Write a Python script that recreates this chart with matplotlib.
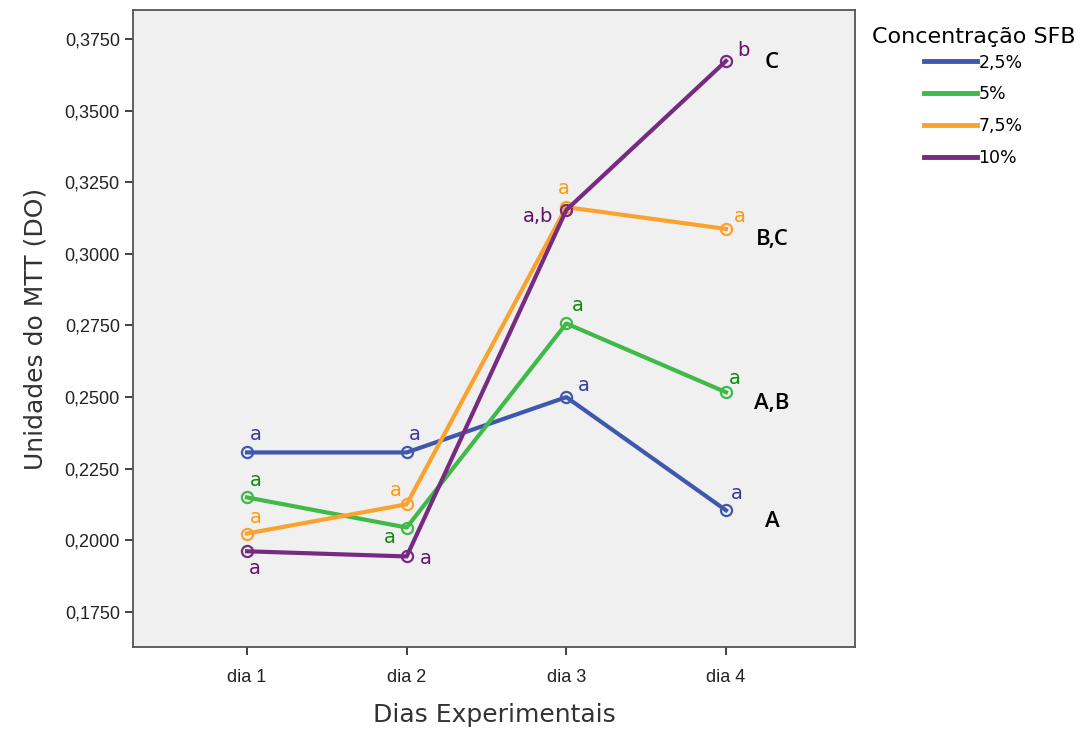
import matplotlib.pyplot as plt
from matplotlib.ticker import FuncFormatter

days = ["dia 1", "dia 2", "dia 3", "dia 4"]
groups = ["2,5%", "5%", "7,5%", "10%"]

mtt_25 = [0.2307, 0.2307, 0.2500, 0.2105]
mtt_5 = [0.2150, 0.2045, 0.2757, 0.2517]
mtt_75 = [0.2024, 0.2126, 0.3163, 0.3087]
mtt_10 = [0.1962, 0.1944, 0.3153, 0.3673]

# letras de significancia por ponto
letters_25 = ["a", "a", "a", "a"]
letters_5 = ["a", "a", "a", "a"]
letters_75 = ["a", "a", "a", "a"]
letters_10 = ["a", "a", "a,b", "b"]

group_letters = ["A", "A,B", "B,C", "C"]

line_colors = ["#3f58ad", "#3dba48", "#fba22e", "#762a80"]
text_colors = ["#3a3a9c", "#118a11", "#ff9a0a", "#6a0f6c"]

# deslocamentos (pixels) dos rotulos
offsets = [
    [(9, 18), (8, 18), (17, 12), (11, 17)],
    [(9, 17), (-17, -10), (11, 18), (9, 14)],
    [(9, 16), (-11, 14), (-3, 19), (14, 12)],
    [(8, -17), (19, -2), (-28, -6), (17, 11)],
]


def main():
    plt.rcParams["font.family"] = ["Liberation Sans", "DejaVu Sans"]
    fig = plt.figure(figsize=(10.85, 7.31), dpi=100)
    ax = fig.add_axes([133 / 1085, 1 - 647 / 731, 722 / 1085, 637 / 731])
    ax.set_facecolor("#f0f0f0")

    x = list(range(len(days)))
    series = [mtt_25, mtt_5, mtt_75, mtt_10]
    letters = [letters_25, letters_5, letters_75, letters_10]

    for i, vals in enumerate(series):
        ax.plot(x, vals, "-o", color=line_colors[i], lw=3, ms=8,
                mfc="none", mew=1.6, label=groups[i], zorder=3 + i)
        for j, v in enumerate(vals):
            ax.annotate(letters[i][j], (x[j], v), xytext=offsets[i][j],
                        textcoords="offset pixels", ha="center", va="center",
                        color=text_colors[i], fontsize=14,
                        family="DejaVu Sans")

    # letras entre grupos no dia 4
    for k, v in enumerate([mtt_25[3], mtt_5[3], mtt_75[3], mtt_10[3]]):
        ax.annotate(group_letters[k], (x[3], v), xytext=(46, -11 if k < 3 else -1),
                    textcoords="offset pixels", ha="center", va="center",
                    color="black", fontsize=16, fontweight="semibold",
                    family=["Open Sans", "DejaVu Sans"])

    ax.set_xlim(-0.714, 3.808)
    ax.set_ylim(0.1628, 0.3851)
    ax.set_xticks(x)
    ax.set_xticklabels(days)
    ax.set_yticks([0.175, 0.2, 0.225, 0.25, 0.275, 0.3, 0.325, 0.35, 0.375])
    ax.yaxis.set_major_formatter(FuncFormatter(lambda v, p: f"{v:.4f}".replace(".", ",")))
    ax.tick_params(axis="both", length=6, width=1.3, color="#333333",
                   labelsize=13, labelcolor="#222222")
    ax.tick_params(axis="x", pad=10)
    for s in ax.spines.values():
        s.set_color("#555555")
        s.set_linewidth(1.3)

    ax.set_xlabel("Dias Experimentais", fontsize=18, color="#333333",
                  family="DejaVu Sans", labelpad=12)
    ax.set_ylabel("Unidades do MTT (DO)", fontsize=18, color="#333333",
                  family="DejaVu Sans", labelpad=12)

    leg = fig.legend(loc="upper left", bbox_to_anchor=(856 / 1085, 1 - 11 / 731),
                     title="Concentração SFB", frameon=False,
                     prop={"family": "DejaVu Sans", "size": 12.5},
                     handlelength=3.0, handletextpad=0.1, labelspacing=0.8,
                     markerscale=0)
    leg.get_title().set_fontsize(16)
    leg.get_title().set_family("DejaVu Sans")
    leg._legend_box.sep = 5
    for h in leg.legend_handles:
        h.set_marker("")
        h.set_linewidth(3.5)

    fig.savefig("out.png", dpi=100)


if __name__ == "__main__":
    main()
